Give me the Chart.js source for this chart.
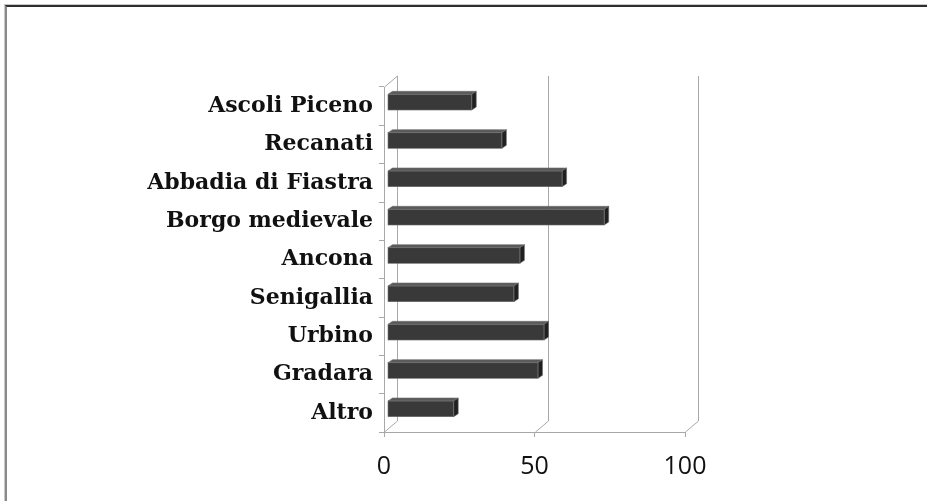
<!DOCTYPE html>
<html>
<head>
<meta charset="utf-8">
<script src="https://cdn.jsdelivr.net/npm/chart.js@4/dist/chart.umd.min.js"></script>
<style>
  html, body { margin: 0; padding: 0; background: #fff; }
  #wrap { position: relative; width: 927px; height: 501px; overflow: hidden; background: #fff; }
  #frame { position: absolute; left: 5px; top: 5px; right: -10px; bottom: -10px;
           border-top: 2px solid #2e2e2e; border-left: 2px solid #8a8a8a; box-shadow: -1px -1px 0 #c8c8c8; }
  canvas { position: absolute; left: 0; top: 0; }
</style>
</head>
<body>
<div id="wrap">
  <div id="frame"></div>
  <canvas id="c" width="927" height="501"></canvas>
</div>
<script>
// Destinations and their counts
const categories = ["Ascoli Piceno", "Recanati", "Abbadia di Fiastra", "Borgo medievale",
                    "Ancona", "Senigallia", "Urbino", "Gradara", "Altro"];
const values = [28, 38, 58, 72, 44, 42, 52, 50, 22];
const axisMin = 0;
const axisMax = 100;
const axisStep = 50;

// 3D look: wall depth, bar placement inside the box and bar thickness
const WALL = { dx: 13, dy: -11 };
const BAR_SHIFT = { dx: 3.5, dy: -4 };
const BAR_DEPTH = { dx: 4.5, dy: -3 };
const LINE = '#a8a8a8';
const FRONT = '#393939';
const TOP = '#5a5a5a';
const SIDE = '#202020';
const EDGE = '#6e6e6e';

const boxPlugin = {
  id: 'box3d',
  beforeDatasetsDraw(chart) {
    const { ctx, chartArea: a, scales: { x } } = chart;
    ctx.save();
    ctx.strokeStyle = LINE;
    ctx.lineWidth = 1;
    ctx.beginPath();
    x.ticks.forEach(t => {
      const px = Math.round(x.getPixelForValue(t.value)) + 0.5;
      ctx.moveTo(px, a.bottom);
      ctx.lineTo(px + WALL.dx, a.bottom + WALL.dy);
      ctx.lineTo(px + WALL.dx, a.top + WALL.dy);
    });
    // top edge of the side wall
    const lx = Math.round(a.left) + 0.5;
    ctx.moveTo(lx, a.top);
    ctx.lineTo(lx + WALL.dx, a.top + WALL.dy);
    ctx.stroke();
    ctx.restore();
  },
  beforeDatasetDraw(chart) {
    chart.ctx.save();
    chart.ctx.translate(BAR_SHIFT.dx, BAR_SHIFT.dy);
  },
  afterDatasetDraw(chart, args) {
    const ctx = chart.ctx;
    const meta = chart.getDatasetMeta(args.index);
    meta.data.forEach(el => {
      const { x, y, base, height } = el.getProps(['x', 'y', 'base', 'height'], true);
      const t = y - height / 2, b = y + height / 2;
      // top face
      ctx.beginPath();
      ctx.moveTo(base, t);
      ctx.lineTo(x, t);
      ctx.lineTo(x + BAR_DEPTH.dx, t + BAR_DEPTH.dy);
      ctx.lineTo(base + BAR_DEPTH.dx, t + BAR_DEPTH.dy);
      ctx.closePath();
      ctx.fillStyle = TOP;
      ctx.fill();
      ctx.strokeStyle = EDGE;
      ctx.lineWidth = 0.6;
      ctx.stroke();
      // end face
      ctx.beginPath();
      ctx.moveTo(x, t);
      ctx.lineTo(x + BAR_DEPTH.dx, t + BAR_DEPTH.dy);
      ctx.lineTo(x + BAR_DEPTH.dx, b + BAR_DEPTH.dy);
      ctx.lineTo(x, b);
      ctx.closePath();
      ctx.fillStyle = SIDE;
      ctx.fill();
      ctx.stroke();
      // front outline
      ctx.strokeRect(base, t, x - base, height);
    });
    ctx.restore();
  }
};

new Chart(document.getElementById('c'), {
  type: 'bar',
  data: {
    labels: categories,
    datasets: [{
      data: values,
      backgroundColor: FRONT,
      borderWidth: 0,
      barPercentage: 0.41,
      categoryPercentage: 1,
      clip: false
    }]
  },
  options: {
    indexAxis: 'y',
    responsive: false,
    devicePixelRatio: 1,
    animation: false,
    layout: { padding: { top: 87, right: 242, bottom: 0, left: 0 } },
    plugins: { legend: { display: false }, tooltip: { enabled: false } },
    scales: {
      x: {
        min: axisMin,
        max: axisMax,
        ticks: { stepSize: axisStep, color: '#111', padding: 15,
                 font: { family: 'Open Sans', size: 25 } },
        grid: { drawOnChartArea: false, tickLength: 5, color: LINE },
        border: { color: LINE },
        afterFit(s) { s.height = 69; }
      },
      y: {
        ticks: { color: '#111', padding: 6,
                 font: { family: 'DejaVu Serif', weight: 'bold', size: 22 } },
        grid: { drawOnChartArea: false, tickLength: 5, color: LINE, offset: true },
        border: { color: LINE },
        afterFit(s) { s.width = 384; }
      }
    }
  },
  plugins: [boxPlugin]
});
</script>
</body>
</html>
